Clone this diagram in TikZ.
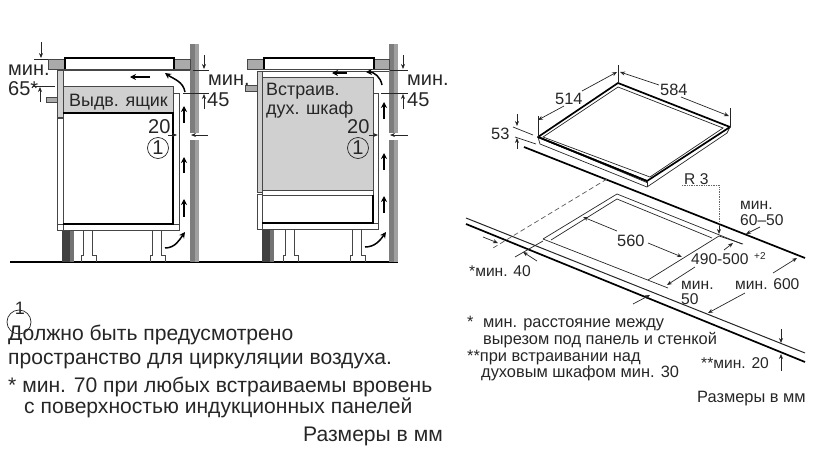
\documentclass[tikz,border=0pt]{standalone}
\usepackage{fontspec}
\setmainfont{Liberation Sans}
\usetikzlibrary{arrows.meta}

\definecolor{wallgrey}{RGB}{125,125,125}
\definecolor{walllight}{RGB}{160,160,160}
\definecolor{panelgrey}{RGB}{208,208,208}
\definecolor{blockgrey}{RGB}{170,170,170}
\definecolor{linegrey}{RGB}{70,70,70}

\tikzset{
  big/.style={inner sep=0pt, anchor=base west, text=black!85, font=\fontsize{20}{20}\selectfont},
  note/.style={inner sep=0pt, anchor=base west, text=black!85, font=\fontsize{21.1}{21.1}\selectfont},
  inside/.style={inner sep=0pt, anchor=base west, text=black!85, font=\fontsize{17.9}{17.9}\selectfont},
  small/.style={inner sep=0pt, anchor=base west, text=black!85, font=\fontsize{15.6}{15.6}\selectfont},
  smallnote/.style={small, font=\fontsize{16.4}{16.4}\selectfont},
  outline/.style={draw=linegrey, line width=1pt},
  heavy/.style={draw=black, line width=1.7pt},
  thin line/.style={draw=black!85, line width=0.7pt},
  dim/.style={draw=black!85, line width=0.7pt, -{Stealth[length=5pt,width=4pt]}},
  air/.style={draw=black, line width=1.5pt, -{Stealth[length=6pt,width=6pt]}},
}

\begin{document}
\begin{tikzpicture}[x=1pt,y=-1pt]
\useasboundingbox (0,0) rectangle (820,450);

% floor
\draw[line width=1.7pt] (10,262) -- (398,262);

% walls
\foreach \wx in {190,389} {
  \fill[wallgrey] (\wx,44) rectangle (\wx+4.5,133);
  \fill[walllight] (\wx+4.5,44) rectangle (\wx+9,133);
  \fill[wallgrey] (\wx,140) rectangle (\wx+4.5,262);
  \fill[walllight] (\wx+4.5,140) rectangle (\wx+9,262);
}

% feet, both cabinets
\foreach \fx in {83,152,285,352} {
  \draw[outline, line width=0.7pt] (\fx,230) -- (\fx,255) -- (\fx-2,255) -- (\fx-2,262);
  \draw[outline, line width=0.7pt] (\fx+9,230) -- (\fx+9,255) -- (\fx+13,255) -- (\fx+13,262);
}

% left cabinet
\fill[black!75] (62,230) rectangle (70,262);
\fill[black!55] (70,230) rectangle (74,262);
\draw[outline, fill=panelgrey] (57,70) rectangle (63,117);
\draw[outline] (57,118) rectangle (63,230);
\draw[outline, fill=panelgrey] (63,86) rectangle (173,113);
\draw[outline] (173,93) rectangle (179,224);
\draw[outline] (57,224) rectangle (179,230);
\draw[heavy] (63,113) -- (173,113) -- (173,224) -- (63,224);
\draw[outline] (63,70) -- (190,70);
\draw[outline, fill=blockgrey] (46,97) rectangle (57,102);
\draw[outline, fill=blockgrey] (48,59) rectangle (65,69);
\draw[outline, fill=blockgrey] (174,59) rectangle (190,69);
\draw[heavy] (65,69) -- (65,58) -- (174,58) -- (174,69);
\draw[outline] (65,69) -- (174,69);

% right cabinet
\fill[black!75] (262,229) rectangle (270,262);
\fill[black!55] (270,229) rectangle (274,262);
\draw[outline, fill=panelgrey] (257,71) rectangle (262,192);
\draw[outline, fill=panelgrey] (262,77) rectangle (373,190);
\draw[outline] (262,190) rectangle (373,195);
\draw[outline] (257,194) rectangle (262,229);
\draw[outline] (373,93) rectangle (378,223);
\draw[outline] (262,223) rectangle (378,229);
\draw[heavy] (373,195) -- (373,223) -- (262,223);
\draw[outline] (262,71) -- (389,71);
\draw[outline, fill=blockgrey] (245,85) rectangle (257,91);
\draw[outline, fill=blockgrey] (247,59) rectangle (264,69);
\draw[outline, fill=blockgrey] (374,59) rectangle (389,69);
\draw[heavy] (264,69) -- (264,58) -- (374,58) -- (374,69);
\draw[outline] (264,69) -- (374,69);

% air flow
\foreach \ax/\ya/\yb in {184/123/106, 184/173/157, 184/217/199, 384/119/102, 384/170/153, 384/213/196}
  \draw[air] (\ax,\ya) -- (\ax,\yb);
\draw[air] (165,248) to[out=0,in=-125] (185,232);
\draw[air] (365,247) to[out=0,in=-125] (386,232);
\draw[air] (185,92) to[out=100,in=-35] (165,73);
\draw[air] (382,85) to[out=100,in=0] (366,72);
\draw[air] (150,77) -- (130,77);
\draw[air] (347,73) -- (332,73);

% dimensions, left cabinet
\draw[thin line] (34,59) -- (48,59);
\draw[thin line] (33,86) -- (55,86);
\draw[thin line] (193,70) -- (209,70);
\draw[thin line] (183,93) -- (209,93);
\draw[dim] (41,42) -- (41,58);
\draw[dim] (40,102) -- (40,87);
\draw[dim] (204,55) -- (204,69);
\draw[dim] (204,109) -- (204,94);
\draw[dim] (168,135) -- (177,135);
\draw[dim] (208,135) -- (191,135);

% dimensions, right cabinet
\draw[thin line] (390,70) -- (408,70);
\draw[thin line] (381,93) -- (408,93);
\draw[dim] (403,55) -- (403,69);
\draw[dim] (403,109) -- (403,94);
\draw[dim] (369,135) -- (378,135);
\draw[dim] (408,135) -- (390,135);

\node[big] (minA) at (8,75) {мин.};
\node[big] (valA) at (8,95) {65*};
\node[big] (minB) at (208,85) {мин.};
\node[big] (valB) at (207,106) {45};
\node[big] (minC) at (407,85) {мин.};
\node[big] (valC) at (407,106) {45};
\node[big] (gapA) at (148,133) {20};
\node[big] (gapB) at (347,133) {20};
\node[big, draw=black!85, circle, anchor=center, minimum size=21pt, line width=0.7pt] (markA) at (158,148) {1};
\node[big, draw=black!85, circle, anchor=center, minimum size=21pt, line width=0.7pt] (markB) at (358,148) {1};
\node[inside] (drawer) at (69,106) {Выдв. ящик};
\node[inside] (ovenA) at (266,95) {Встраив.};
\node[inside] (ovenB) at (266,114) {дух. шкаф};

% hob
\draw[heavy, fill=white, line join=round] (618,83) -- (730,127) -- (647,181) -- (538,137) -- cycle;
\draw[thin line] (730,127) -- (727,133) -- (647,187) -- (540,144) -- (538,137);
\draw[thin line] (647,181) -- (647,187);
\draw[thin line] (618,87) -- (723,128) -- (650,177) -- (543,137) -- cycle;
\draw[thin line] (545,140) -- (648,183);
\draw[heavy] (538,137) -- (647,181);

% hob dimensions
\draw[thin line] (618,65) -- (618,83);
\draw[thin line] (538,116) -- (538,137);
\draw[thin line] (730,108) -- (730,127);
\draw[dim] (564,106) -- (538,120);
\draw[dim] (582,91) -- (617,72);
\draw[dim] (659,85) -- (620,72);
\draw[dim] (681,97) -- (729,116);
\draw[thin line] (513,127) -- (533,135);
\draw[thin line] (515,137) -- (536,144);
\draw[dim] (517,114) -- (517,126);
\draw[dim] (517,149) -- (517,138);
\node[smallnote] (widthA) at (555,104) {514};
\node[smallnote] (widthB) at (660,95) {584};
\node[smallnote] (heightA) at (491,139) {53};

% worktop
\draw[heavy] (524,147) -- (805,258);
\draw[thin line, line width=1pt] (466,218) -- (805,353);
\draw[heavy] (466,224) -- (805,362);

% cut-out
\draw[thin line] (543,239) -- (617,194) -- (742,244);
\draw[thin line] (551,240) -- (617,199) -- (712,238);
\draw[thin line] (543,239) -- (668,288);
\draw[thin line] (648,280) -- (719,236);
\draw[thin line] (719,236) -- (743,244);
\draw[thin line, dash pattern=on 5pt off 3pt, draw=black!65] (607,179) -- (493,248);
\draw[thin line] (515,257) -- (543,241);
\draw[thin line, densely dotted, draw=black!60] (682,185) -- (719,185) -- (719,226);
\draw[dim] (719,226) -- (719,234);

% cut-out dimensions
\draw[dim] (617,231) -- (583,217);
\draw[dim] (648,243) -- (682,257);
\draw[dim] (724,250) -- (733,243);
\draw[dim] (695,267) -- (667,285);
\draw[dim] (760,227) -- (746,234);
\draw[dim] (773,273) -- (797,258);
\draw[dim] (745,293) -- (708,313);
\draw[dim] (483,237) -- (498,243);
\draw[dim] (537,261) -- (523,252);
\draw[dim] (633,304) -- (650,295);
\draw[dim] (781,329) -- (781,343);
\draw[dim] (781,371) -- (781,354);

\node[smallnote] (lenA) at (617,246) {560};
\node[small] (lenB) at (691,264) {490-500};
\node[small, font=\fontsize{10}{10}\selectfont] (lenTol) at (754,259) {+2};
\node[small] (marginA) at (740,209) {мин.};
\node[small] (marginB) at (740,225) {60–50};
\node[small] (depthA) at (735,289) {мин. 600};
\node[small] (frontA) at (681,289) {мин.};
\node[small] (frontB) at (681,304) {50};
\node[small] (sideA) at (469,276) {*мин. 40};
\node[small] (radius) at (684,184) {R 3};
\node[small] (edgeA) at (701,368) {**мин. 20};

% notes, right
\node[smallnote] (starA) at (467,327) {*};
\node[smallnote] (noteA) at (483,327) {мин. расстояние между};
\node[smallnote] (noteB) at (483,344) {вырезом под панель и стенкой};
\node[smallnote] (noteC) at (467,361) {**при встраивании над};
\node[smallnote] (noteD) at (481,377) {духовым шкафом мин. 30};
\node[smallnote] (unitA) at (697,402) {Размеры в мм};

% notes, left
\node[big, anchor=center, font=\fontsize{18}{18}\selectfont] (oneB) at (20,308) {1};
\draw[thin line] (19,322) circle[radius=12];
\node[note] (textA) at (8,340) {Должно быть предусмотрено};
\node[note] (textB) at (8,364) {пространство для циркуляции воздуха.};
\node[note] (textC) at (8,392) {* мин. 70 при любых встраиваемы вровень};
\node[note] (textD) at (24,413) {с поверхностью индукционных панелей};
\node[note] (unitB) at (303,441) {Размеры в мм};
\end{tikzpicture}
\end{document}
